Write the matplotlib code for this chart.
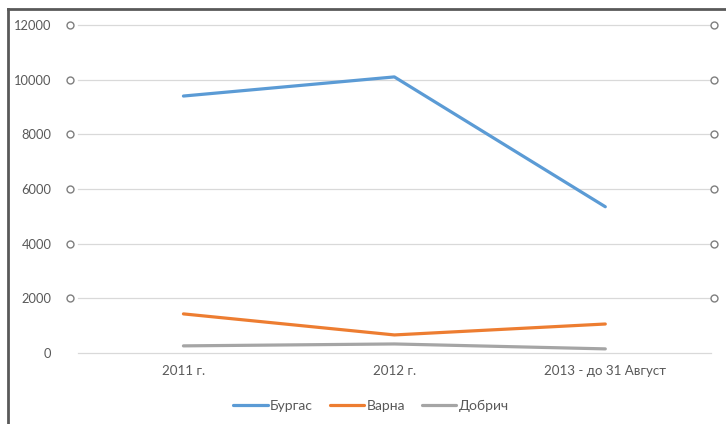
import matplotlib.pyplot as plt
from matplotlib.lines import Line2D

plt.rcParams['font.family'] = ['Lato', 'DejaVu Sans']

categories = ['2011 г.', '2012 г.', '2013 - до 31 Август']
burgas = [9400, 10100, 5350]
varna = [1430, 660, 1060]
dobrich = [260, 330, 150]
yticks = [0, 2000, 4000, 6000, 8000, 10000, 12000]

fig = plt.figure(figsize=(7.26, 4.24), dpi=100)
ax = fig.add_axes([0.1074, 0.1675, 0.8716, 0.7736])

x = range(len(categories))
ax.plot(x, burgas, color='#5B9BD5', lw=2.3, label='Бургас', solid_capstyle='round')
ax.plot(x, varna, color='#ED7D31', lw=2.3, label='Варна', solid_capstyle='round')
ax.plot(x, dobrich, color='#A5A5A5', lw=2.3, label='Добрич', solid_capstyle='round')

ax.set_xlim(-0.5, 2.5)
ax.set_ylim(0, 12000)
ax.set_xticks(list(x))
ax.set_xticklabels(categories)
ax.set_yticks(yticks)
ax.set_yticklabels([str(v) for v in yticks])
ax.tick_params(length=0, labelsize=9.3, labelcolor='#595959')
ax.tick_params(axis='x', labelsize=9.6, pad=9)
ax.tick_params(axis='y', pad=19)
ax.grid(axis='y', color='#D9D9D9', lw=0.9)
for gl in ax.get_ygridlines():
    gl.set_clip_on(False)
ax.set_axisbelow(True)
for s in ax.spines.values():
    s.set_visible(False)

# small selection-handle circles at both ends of the gridlines
for v in yticks[1:]:
    for xa in (-0.012, 1.005):
        ax.plot([xa], [v], marker='o', ms=5, mfc='white', mec='#7F7F7F', mew=1,
                transform=ax.get_yaxis_transform(), clip_on=False)

ax.legend(loc='center', bbox_to_anchor=(0.511, 0.042), bbox_transform=fig.transFigure,
          ncol=3, frameon=False, fontsize=10, handlelength=2.5, handletextpad=0.15,
          columnspacing=1.2, labelcolor='#595959')

# frame of the screenshot (left and top edges)
fig.add_artist(Line2D([0.011, 0.011], [0, 0.979], color='#595959', lw=2, transform=fig.transFigure))
fig.add_artist(Line2D([0.011, 1], [0.979, 0.979], color='#595959', lw=2, transform=fig.transFigure))

fig.savefig('out.png', dpi=100)
